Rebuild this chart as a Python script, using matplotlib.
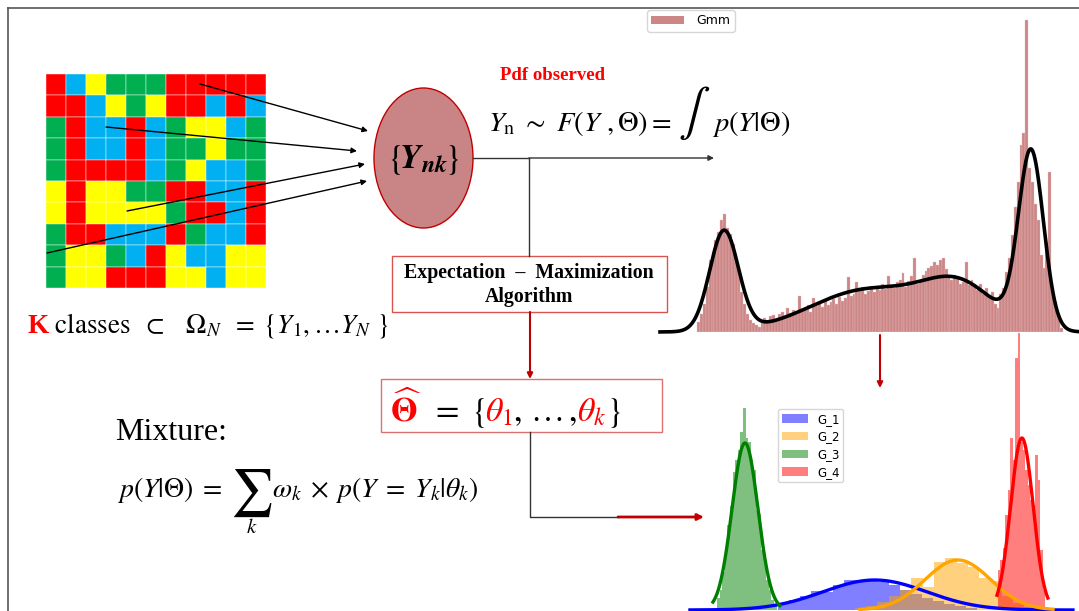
import numpy as np
import matplotlib
matplotlib.use('Agg')
import matplotlib.pyplot as plt
from matplotlib.patches import Rectangle, Ellipse, FancyArrowPatch, Patch
from matplotlib.font_manager import FontProperties
from matplotlib.mathtext import MathTextParser

plt.rcParams['mathtext.fontset'] = 'stix'
plt.rcParams['font.family'] = ['Liberation Serif', 'DejaVu Serif']

# ---------------- data ----------------
class_colors = {'R': '#ff0000', 'B': '#00b0f0', 'Y': '#ffff00', 'G': '#00b050'}
grid_rows = [
    "RBYGGGRRRRR",
    "RRBYGYRRBRB",
    "GRBBRBGYYBG",
    "GRBBRBGGYGG",
    "GRRRRBGYBBG",
    "YRYYGGRRBBR",
    "YRYYYYGRRBR",
    "GRRBBBRGBBR",
    "GYYGBRYBBYY",
    "GYYRRRYYBYY",
]

comp_names = ['G_1', 'G_2', 'G_3', 'G_4']
comp_colors = ['blue', 'orange', 'green', 'red']
comp_means = [115, 163, 40, 200]
comp_sds = [30, 19, 7.5, 6.5]
top_peaks = [42, 42, 100, 176]
bottom_peaks = [30, 50, 167, 172]
bottom_curve_ranges = [(8.2, 229.5), (106.4, 218.0), (21.5, 60.2), (185.6, 215.0)]

gmm_bin_start = 26.0
gmm_bin_width = 1.5
gmm_counts = [
    10, 18, 28, 45, 72, 80, 92, 100, 112, 118,
    104, 98, 88, 72, 58, 40, 28, 18, 12, 9,
    7, 5, 12, 14, 11, 16, 17, 13, 18, 20,
    15, 24, 19, 22, 18, 36, 21, 24, 27, 20,
    34, 26, 29, 25, 31, 27, 30, 33, 28, 35,
    31, 34, 55, 36, 38, 50, 44, 45, 38, 41,
    46, 40, 45, 42, 48, 43, 56, 47, 44, 50,
    52, 59, 45, 51, 56, 74, 48, 50, 57, 61,
    64, 66, 70, 67, 72, 74, 63, 56, 52, 57,
    54, 48, 50, 70, 47, 52, 45, 42, 48, 38,
    44, 36, 40, 28, 24, 38, 44, 60, 74, 97,
    125, 150, 187, 199, 312, 164, 150, 128, 112, 77,
    64, 90, 160, 44, 30, 16, 4,
]

comp_bin_starts = [59.0, 103.5, 23.8, 186.2]
comp_bin_widths = [6.4, 6.53, 1.5, 1.44]
comp_counts = [
    [6, 10, 14, 19, 18, 25, 30, 30, 30, 28, 25, 20, 16, 12, 9, 6, 4, 2],
    [2, 4, 8, 14, 20, 32, 23, 48, 52, 47, 43, 32, 29, 14, 7, 3],
    [12, 20, 38, 62, 85, 104, 138, 150, 160, 178, 202, 172, 168, 150, 140,
     100, 96, 60, 52, 30, 20, 10, 6],
    [40, 50, 62, 95, 120, 172, 150, 252, 277, 168, 160, 140, 125, 110, 105,
     155, 130, 60, 20],
]

# ---------------- figure ----------------
W, H = 1079, 611
fig = plt.figure(figsize=(W / 100, H / 100), dpi=100)
ax = fig.add_axes([0, 0, 1, 1])
ax.set_xlim(0, W)
ax.set_ylim(H, 0)
ax.axis('off')

DARKRED = '#c00000'

# frame
ax.plot([8, W], [8, 8], color='#555555', lw=1.2)
ax.plot([8, 8], [8, H], color='#555555', lw=1.2)

# class map grid
gx0, gy0, cw, ch = 46, 74, 20.0, 21.4
for r, row in enumerate(grid_rows):
    for c, code in enumerate(row):
        ax.add_patch(Rectangle((gx0 + c * cw, gy0 + r * ch), cw, ch,
                               facecolor=class_colors[code], edgecolor='white', lw=0.3))

def arrow(p0, p1, color='black', lw=1.0, ms=8):
    ax.add_patch(FancyArrowPatch(p0, p1, arrowstyle='-|>', mutation_scale=ms,
                                 color=color, lw=lw, shrinkA=0, shrinkB=0))

arrow((200, 84), (368, 131))
arrow((106, 127), (357, 151))
arrow((127, 211), (365, 164))
arrow((47, 253), (367, 181))

# ellipse
ax.add_patch(Ellipse((423.5, 158), 99, 140, facecolor='#c98585', edgecolor=DARKRED, lw=1.0))

try:
    MathTextParser('path').parse(r'$\mathbfit{Y}$', dpi=72, prop=FontProperties())
    ynk = r'$\{\!\mathbfit{Y}_{\mathbfit{nk}}\!\}$'
except Exception:
    ynk = r'$\{\mathbf{Y}_{\mathbf{nk}}\}$'
ax.text(423, 160, ynk, fontsize=25, ha='center', va='center', color='black')

# connectors
ax.plot([473, 529], [158, 158], color='#333333', lw=1.0)
arrow((529, 158), (714, 158), color='#333333', lw=1.0, ms=8)
ax.plot([529, 529], [158, 256], color='#333333', lw=1.0)

# Pdf observed + formula
ax.text(553, 76, 'Pdf observed', color='red', fontsize=13.5, fontweight='bold',
        ha='center', va='center')
ax.text(488, 131, r'$Y_{\mathrm{n}}\ \sim\ F(Y\ ,\Theta) =$',
        fontsize=20.5, ha='left', va='baseline')
ax.text(694, 125, r'$\int$', fontsize=34, ha='center', va='baseline')
ax.text(712, 131, r'$p(Y|\Theta)$', fontsize=20.5, ha='left', va='baseline')

# EM box
ax.add_patch(Rectangle((392, 256), 275, 56, facecolor='white', edgecolor='#d9534f', lw=1.0))
ax.text(529, 273, 'Expectation  \u2013  Maximization', fontsize=14.3, fontweight='bold',
        ha='center', va='center')
ax.text(529, 297, 'Algorithm', fontsize=14.3, fontweight='bold', ha='center', va='center')

arrow((530, 312), (530, 379), color=DARKRED, lw=1.5, ms=8)

# Theta box
ax.add_patch(Rectangle((381, 379), 281, 53, facecolor='white', edgecolor='#e07070', lw=1.0))

def chain(x, y, pieces, fs):
    s0, c0, w0 = pieces[0]
    prev = ax.text(x, y, s0, color=c0, fontsize=fs, fontweight=w0,
                   ha='left', va='baseline')
    for s, col, w in pieces[1:]:
        prev = ax.annotate(s, xy=(1.0, y), xycoords=(prev, 'data'), color=col,
                           fontsize=fs, fontweight=w, ha='left', va='baseline')
    return prev

chain(390, 421, [(r'$\widehat{\mathbf{\Theta}}$', 'red', 'bold'), (r'$\ =\ \{$', 'black', 'normal'),
                 (r'$\theta_1$', 'red', 'normal'), (r'$,\,\ldots\,,\ $', 'black', 'normal'),
                 (r'$\theta_k$', 'red', 'normal'), (r'$\}$', 'black', 'normal')], 24.5)

# lower connector
ax.plot([530, 530, 618], [432, 517, 517], color='#333333', lw=1.0)
arrow((618, 517), (704, 517), color=DARKRED, lw=2.0, ms=9)

# red arrow between histograms
arrow((880, 335), (880, 388), color=DARKRED, lw=1.5, ms=8)

# K classes
chain(27, 333, [('K', 'red', 'bold'),
                (r'$\ \mathrm{classes}\ \;\subset\;\ \;\Omega_N\;\ =\;\{Y_1,\ldots Y_N\ \}$', 'black', 'normal')], 19.5)

# Mixture
ax.text(115, 440, 'Mixture:', fontsize=23, ha='left', va='baseline')
ax.text(117, 497, r'$p(Y|\Theta)\;=$', fontsize=20, ha='left', va='baseline')
ax.text(251, 505, r'$\sum$', fontsize=34, ha='center', va='baseline')
ax.text(252, 533, r'$k$', fontsize=15, ha='center', va='baseline')
ax.text(272, 497, r'$\omega_k\;\times\; p(Y\;=\;Y_k|\theta_k)$', fontsize=20,
        ha='left', va='baseline')

# ---------------- top histogram (observed pdf) ----------------
axt = fig.add_axes([660 / W, (H - 332) / H, (W - 660) / W, (332 - 15) / H])
axt.set_xlim(6.6, 225)
axt.set_ylim(0, 317)
axt.axis('off')
edges = gmm_bin_start + gmm_bin_width * np.arange(len(gmm_counts))
axt.bar(edges, gmm_counts, width=gmm_bin_width, align='edge', color='#cd8686',
        edgecolor='#e9c4c4', linewidth=0.25, label='Gmm')
xs = np.linspace(6.6, 225, 800)
mix = np.zeros_like(xs)
for m, s, p in zip(comp_means, comp_sds, top_peaks):
    mix += p * np.exp(-0.5 * ((xs - m) / s) ** 2)
axt.plot(xs, mix, color='black', lw=2.6, clip_on=False)
fig.legend(handles=[Patch(facecolor='#cd8686', label='Gmm')], loc='upper left',
           bbox_to_anchor=(647 / W, 1 - 10 / H), borderaxespad=0, frameon=True,
           borderpad=0.35, handlelength=2.6, handletextpad=1.0,
           prop={'family': 'DejaVu Sans', 'size': 9})

# ---------------- bottom histogram (components) ----------------
axb = fig.add_axes([690 / W, 1 / H, (W - 690) / W, 278 / H])
axb.set_xlim(8.23, 233.0)
axb.set_ylim(0, 278)
axb.axis('off')
for k in range(4):
    e = comp_bin_starts[k] + comp_bin_widths[k] * np.arange(len(comp_counts[k]))
    axb.bar(e, comp_counts[k], width=comp_bin_widths[k], align='edge',
            color=comp_colors[k], alpha=0.5, edgecolor='none', label=comp_names[k])
for k in range(4):
    lo, hi = bottom_curve_ranges[k]
    xx = np.linspace(lo, hi, 400)
    yy = bottom_peaks[k] * np.exp(-0.5 * ((xx - comp_means[k]) / comp_sds[k]) ** 2)
    axb.plot(xx, yy, color=comp_colors[k], lw=2.4, clip_on=False)
fig.legend(handles=[Patch(facecolor=c, alpha=0.5, label=n) for c, n in zip(comp_colors, comp_names)],
           loc='upper left', bbox_to_anchor=(778 / W, 1 - 409 / H), borderaxespad=0,
           frameon=True, borderpad=0.3, labelspacing=0.4, handlelength=2.2,
           prop={'family': 'DejaVu Sans', 'size': 8.5})

fig.savefig('out.png', dpi=100)
